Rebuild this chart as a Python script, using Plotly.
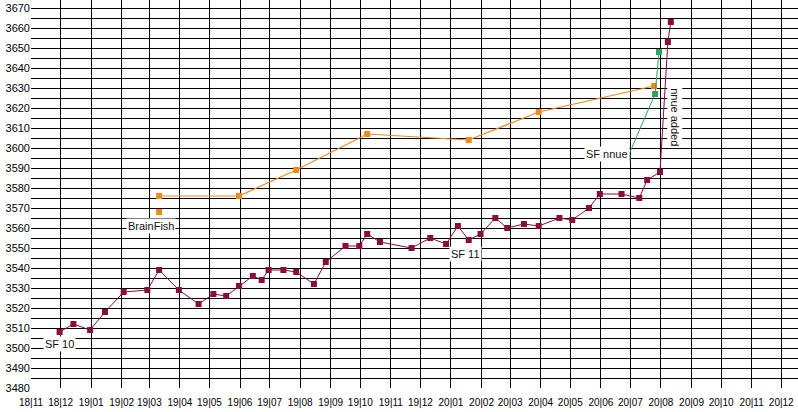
import plotly.graph_objects as go

# Stockfish (red) series
sf_dates = ["2018-11-30", "2018-12-14", "2018-12-31", "2019-01-15", "2019-02-03", "2019-02-27",
            "2019-03-11", "2019-03-31", "2019-04-20", "2019-05-05", "2019-05-18", "2019-05-31",
            "2019-06-14", "2019-06-23", "2019-06-30", "2019-07-15", "2019-07-28", "2019-08-15",
            "2019-08-27", "2019-09-16", "2019-09-30", "2019-10-08", "2019-10-21", "2019-11-22",
            "2019-12-11", "2019-12-27", "2020-01-08", "2020-01-19", "2020-01-31", "2020-02-15",
            "2020-02-27", "2020-03-15", "2020-03-30", "2020-04-20", "2020-05-03", "2020-05-20",
            "2020-05-31", "2020-06-22", "2020-07-10", "2020-07-18", "2020-07-31", "2020-08-08",
            "2020-08-11"]
sf_elo = [3508, 3512, 3509, 3518, 3528, 3529, 3539, 3529, 3522, 3527, 3526, 3531,
          3536, 3534, 3539, 3539, 3538, 3532, 3543, 3551, 3551, 3557, 3553, 3550,
          3555, 3552, 3561, 3554, 3557, 3565, 3560, 3562, 3561, 3565, 3564, 3570,
          3577, 3577, 3575, 3584, 3588, 3653, 3663]

# BrainFish (orange) series
bf_dates = ["2019-03-11", "2019-05-31", "2019-07-28", "2019-10-08", "2020-01-19", "2020-03-30", "2020-07-25"]
bf_elo = [3576, 3576, 3589, 3607, 3604, 3618, 3631]
bf_extra_dates = ["2019-03-11"]
bf_extra_elo = [3568]

# SF NNUE (green) series
nnue_dates = ["2020-06-28", "2020-07-26", "2020-07-30"]
nnue_elo = [3595, 3627, 3648]

# annotations: (date, value, text, angle)
labels = [
    ("2018-11-30", 3502, "SF 10", 0),
    ("2019-03-03", 3561, "BrainFish", 0),
    ("2020-01-16", 3547, "SF 11", 0),
    ("2020-06-07", 3597, "SF nnue", 0),
    ("2020-08-15", 3615.5, "nnue added", 90),
]

red = "#8B0D3A"
orange = "#F28A1A"
green = "#2FA45C"

fig = go.Figure()
fig.add_trace(go.Scatter(x=sf_dates, y=sf_elo, mode="lines+markers",
                         line=dict(color=red, width=1),
                         marker=dict(symbol="square", size=6, color=red)))
fig.add_trace(go.Scatter(x=bf_dates, y=bf_elo, mode="lines+markers",
                         line=dict(color=orange, width=1.2),
                         marker=dict(symbol="square", size=6, color=orange)))
fig.add_trace(go.Scatter(x=bf_extra_dates, y=bf_extra_elo, mode="markers",
                         marker=dict(symbol="square", size=6, color=orange)))
fig.add_trace(go.Scatter(x=nnue_dates, y=nnue_elo, mode="lines+markers",
                         line=dict(color=green, width=1),
                         marker=dict(symbol="square", size=6, color=green)))

for d, v, t, a in labels:
    fig.add_annotation(x=d, y=v, text=t, showarrow=False, textangle=a,
                       bgcolor="white", borderpad=1,
                       font=dict(family="Liberation Sans, Arial", size=11, color="#111111"))

fig.update_layout(
    width=798, height=412,
    margin=dict(l=31, r=0, t=0, b=24),
    paper_bgcolor="white", plot_bgcolor="white",
    showlegend=False,
    font=dict(family="Liberation Sans, Arial", size=11, color="black"),
)
fig.update_xaxes(type="date", range=["2018-11-01", "2020-12-18"],
                 dtick="M1", tick0="2018-11-01", tickformat="%y|%m",
                 tickangle=0, automargin=False, ticklabelstandoff=7,
                 showgrid=True, gridcolor="black", gridwidth=1,
                 zeroline=False, showline=False, ticks="",
                 tickfont=dict(size=10, color="black"))
fig.update_yaxes(range=[3480, 3674], dtick=10, tick0=3480, automargin=False,
                 showgrid=True, gridcolor="black", gridwidth=1,
                 minor=dict(dtick=5, showgrid=True, gridcolor="black", gridwidth=1),
                 zeroline=False, showline=False, ticks="",
                 tickfont=dict(size=11, color="black"))

fig.write_html("out.html", config={"displayModeBar": False},
               post_script="document.body.style.margin='0';")
